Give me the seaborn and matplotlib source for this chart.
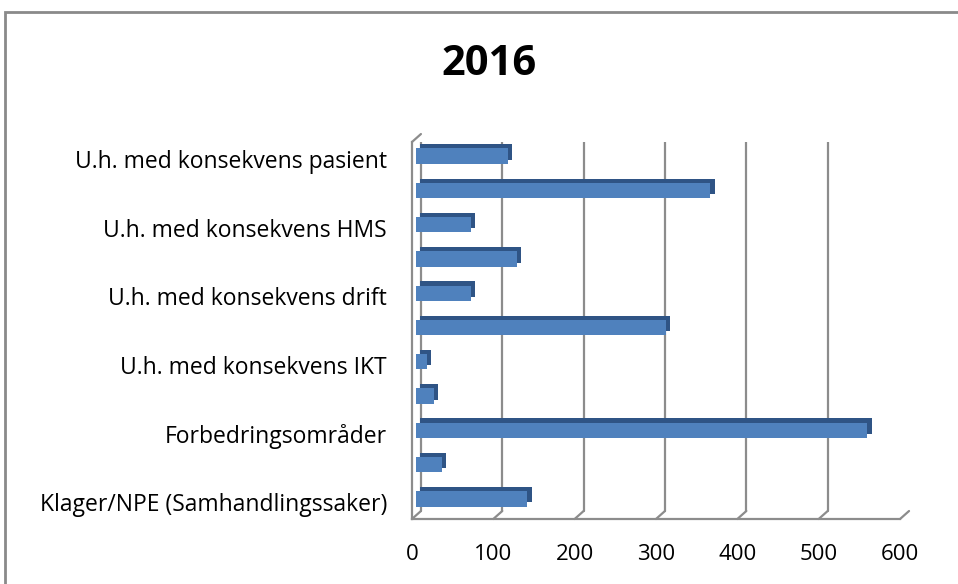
import numpy as np
import pandas as pd
import matplotlib
matplotlib.use('Agg')
import matplotlib.pyplot as plt
import matplotlib.patheffects as pe
from matplotlib.transforms import offset_copy
from matplotlib.patches import Rectangle
import seaborn as sns

# Data (top to bottom, as in the reference)
etiketter = ['U.h. med konsekvens pasient', '',
             'U.h. med konsekvens HMS', '',
             'U.h. med konsekvens drift', '',
             'U.h. med konsekvens IKT', '',
             'Forbedringsområder', '',
             'Klager/NPE (Samhandlingssaker)']
antall = [113, 362, 68, 124, 68, 307, 14, 22, 555, 32, 137]
x_ticks = [0, 100, 200, 300, 400, 500, 600]

df = pd.DataFrame({'pos': np.arange(len(antall)), 'antall': antall})

sns.set_style('white')
plt.rcParams['font.family'] = ['Open Sans', 'DejaVu Sans']
plt.rcParams['text.color'] = 'black'

grid_col = '#8c8c8c'
fig = plt.figure(figsize=(9.58, 5.84), dpi=100)
ax = fig.add_axes([0.430, 0.1113, 0.5095, 0.6455])

sns.barplot(data=df, x='antall', y='pos', orient='h', color='#4f81bd',
            width=0.45, saturation=1, linewidth=0, ax=ax, zorder=3)
# pseudo-3D: push bars a little into depth and give them a dark side face
bar_trans = offset_copy(ax.transData, fig=fig, x=4, y=3, units='dots')
for bar in ax.patches:
    bar.set_transform(bar_trans)
    bar.set_path_effects([
        pe.SimplePatchShadow(offset=(3, 3), shadow_rgbFace='#2f5485', alpha=1),
        pe.Normal()])

ax.set_xlim(0, 600)
ax.set_xticks(x_ticks)
ax.set_xticklabels([str(t) for t in x_ticks], fontsize=16)
ax.set_yticks(np.arange(len(antall)))
ax.set_yticklabels(etiketter, fontsize=16.5)
ax.set_xlabel('')
ax.set_ylabel('')

# back-wall gridlines shifted into depth
ax.grid(axis='x', color=grid_col, linewidth=1.6)
for gl in ax.xaxis.get_gridlines():
    gl.set_transform(offset_copy(gl.get_transform(), fig=fig, x=9, y=8, units='dots'))
    gl.set_zorder(1)
ax.set_axisbelow(True)

for s in ['top', 'right']:
    ax.spines[s].set_visible(False)
for s in ['left', 'bottom']:
    ax.spines[s].set_color(grid_col)
    ax.spines[s].set_linewidth(1.6)

ax.tick_params(axis='x', direction='out', length=6, width=1.6, color=grid_col,
               pad=12, labelcolor='black')
ax.tick_params(axis='y', which='major', length=0, pad=18, labelcolor='black')
ax.set_yticks(np.arange(-0.5, len(antall)), minor=True)
ax.tick_params(axis='y', which='minor', direction='out', length=7, width=1.6, color=grid_col)
ax.set_ylim(len(antall) - 0.5, -0.5)

# floor diagonals
for t in x_ticks:
    ax.annotate('', xy=(t, 0), xycoords=('data', 'axes fraction'),
                xytext=(9, 8), textcoords='offset pixels',
                arrowprops=dict(arrowstyle='-', color=grid_col, lw=1.6,
                                shrinkA=0, shrinkB=0))
ax.annotate('', xy=(0, 1), xycoords='axes fraction',
            xytext=(9, 8), textcoords='offset pixels',
            arrowprops=dict(arrowstyle='-', color=grid_col, lw=1.6,
                            shrinkA=0, shrinkB=0))

fig.text(0.510, 0.890, '2016', ha='center', va='center', fontsize=30,
         fontweight='bold', color='black')

fig.patches.append(Rectangle((5 / 958, -0.05), 1.1, 1 - 12 / 584 + 0.05,
                             transform=fig.transFigure, fill=False,
                             edgecolor='#8a8a8a', linewidth=2))

fig.savefig('out.png', dpi=100)
